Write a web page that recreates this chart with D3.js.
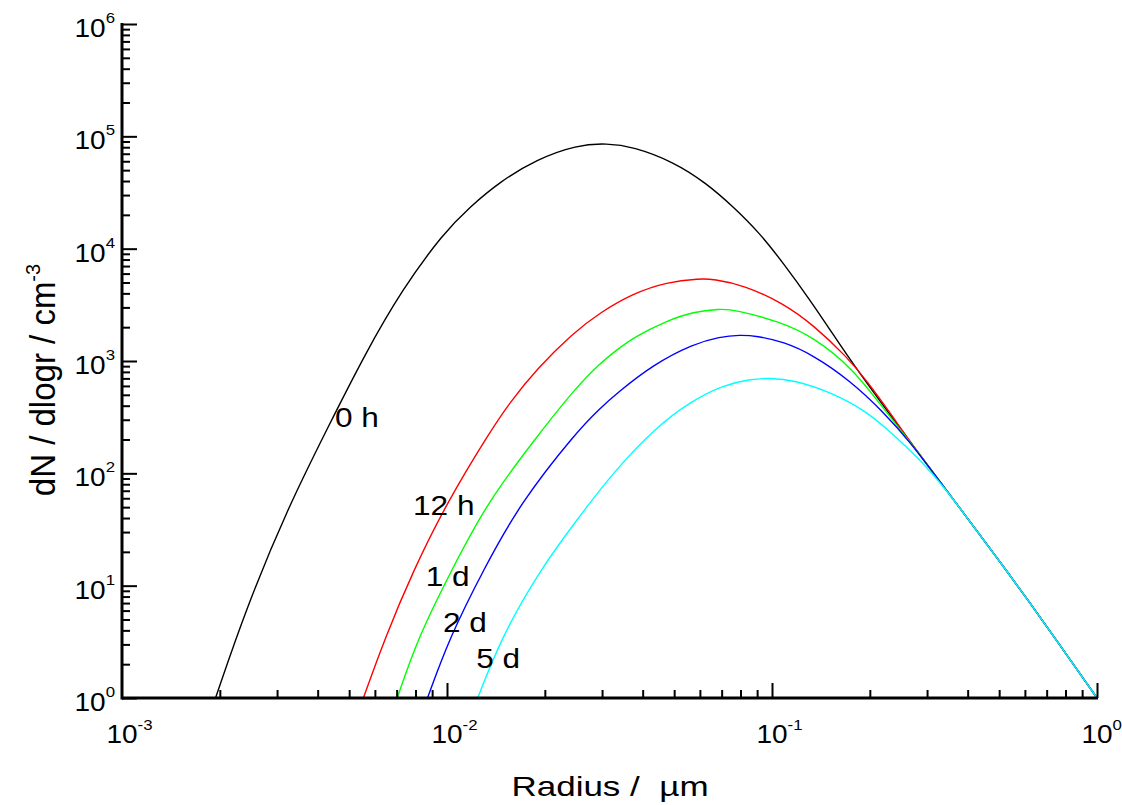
<!DOCTYPE html>
<html>
<head>
<meta charset="utf-8">
<script src="https://cdn.jsdelivr.net/npm/d3@7"></script>
<style>
  html, body { margin: 0; padding: 0; background: #fff; }
  svg { display: block; }
  text { font-family: "Liberation Sans", Arial, sans-serif; fill: #000; }
</style>
</head>
<body>
<svg id="chart" width="1122" height="805"></svg>
<script>
// ---------------- data ----------------
const xTickExps = [-3, -2, -1, 0];
const yTickExps = [0, 1, 2, 3, 4, 5, 6];

// shared large-particle tail (all curves coincide here)
const tailR = [0.2659, 0.3365, 0.4064, 0.5036, 0.6083, 0.769, 1.0];
const tailN = [191, 77.1, 37.3, 16.2, 7.69, 2.96, 1];

const r0h = [1.94e-3, 2.42e-3, 3.25e-3, 4.31e-3, 5.59e-3, 7.26e-3, 9.74e-3, 0.01178, 0.01455, 0.01888, 0.02506, 0.0310, 0.0374, 0.0497, 0.0629, 0.0760, 0.0918, 0.1084, 0.1309, 0.1507, 0.1825];
const n0h = [1, 6.5, 50.5, 260, 1150, 4287, 13700, 23650, 39500, 62500, 83800, 86700, 80900, 59500, 38200, 23650, 13700, 7410, 3490, 1905, 832];

const r12h = [5.53e-3, 6.44e-3, 7.87e-3, 9.98e-3, 0.01356, 0.01563, 0.01888, 0.02447, 0.02957, 0.0374, 0.0474, 0.0602, 0.0659, 0.0817, 0.1084, 0.1339, 0.1698, 0.1956, 0.236];
const n12h = [1, 3.4, 13.6, 54.5, 235, 430, 850, 1780, 2700, 4000, 5050, 5420, 5350, 4750, 3265, 2093, 1092, 670, 316];

const r1d = [7.03e-3, 8.16e-3, 0.01034, 0.01324, 0.01888, 0.02506, 0.02957, 0.0333, 0.0374, 0.0474, 0.0573, 0.0692, 0.0760, 0.1058, 0.1339, 0.1778, 0.2201];
const n1d = [1, 3.51, 13.8, 54.1, 212, 590, 954, 1253, 1620, 2280, 2748, 2904, 2880, 2239, 1640, 850, 378];

const r2d = [8.71e-3, 0.01021, 0.01294, 0.01677, 0.02506, 0.02957, 0.0333, 0.0431, 0.0573, 0.0692, 0.0797, 0.0897, 0.1084, 0.1339, 0.1738, 0.2196];
const n2d = [1, 3.51, 13.8, 54.1, 235, 379, 516, 930, 1420, 1646, 1705, 1670, 1486, 1131, 670, 355];

const r5d = [0.01243, 0.01473, 0.01932, 0.02506, 0.0329, 0.0442, 0.0560, 0.0708, 0.0855, 0.0986, 0.1163, 0.1541, 0.1946, 0.2357, 0.2853];
const n5d = [1, 3.51, 13.8, 38.4, 107, 260, 434, 612, 688, 706, 678, 519, 359, 224, 132];

const seriesNames = ["0 h", "12 h", "1 d", "2 d", "5 d"];
const seriesColors = ["#000000", "#ff0000", "#00ff00", "#0000ff", "#00ffff"];
const seriesR = [r0h, r12h, r1d, r2d, r5d];
const seriesN = [n0h, n12h, n1d, n2d, n5d];
// curve label anchors (radius, dN) in data coordinates
const labelR = [4.52e-3, 7.86e-3, 8.60e-3, 9.72e-3, 0.0123];
const labelN = [258, 42.6, 9.93, 3.89, 1.84];

// ---------------- layout ----------------
const svg = d3.select("#chart");
const X0 = 122, X1 = 1097, Y0 = 698, Y1 = 24;

const x = d3.scaleLog().domain([1e-3, 1]).range([X0, X1]);
const y = d3.scaleLog().domain([1, 1e6]).range([Y0, Y1]);

// ---------------- curves ----------------
const line = d3.line()
  .x(d => x(d[0]))
  .y(d => y(d[1]))
  .curve(d3.curveBasis);

seriesR.forEach((rs, i) => {
  const pts = rs.map((r, k) => [r, seriesN[i][k]]);
  const last = rs[rs.length - 1];
  const tail = tailR.map((t, k) => [t, tailN[k]]).filter(p => p[0] > last);
  svg.append("path")
    .attr("d", line(pts.concat(tail)))
    .attr("fill", "none")
    .attr("stroke", seriesColors[i])
    .attr("stroke-width", 1.4)
    .attr("stroke-linejoin", "round");
});

// ---------------- axes ----------------
const minorX = [];
for (let e = -3; e < 0; e++) for (let m = 2; m <= 9; m++) minorX.push(m * Math.pow(10, e));
const minorY = [];
for (let e = 0; e < 6; e++) for (let m = 2; m <= 9; m++) minorY.push(m * Math.pow(10, e));

const gx = svg.append("g").attr("transform", `translate(0,${Y0})`);
gx.call(d3.axisBottom(x).tickValues(minorX).tickSize(-8).tickFormat(""))
  .call(g => g.select(".domain").remove());
gx.append("g").call(d3.axisBottom(x).tickValues(xTickExps.filter(e => e > -3).map(e => Math.pow(10, e))).tickSize(-15).tickFormat(""))
  .call(g => g.select(".domain").remove());
gx.selectAll("line").attr("stroke", "#000").attr("stroke-width", 2);

const gy = svg.append("g").attr("transform", `translate(${X0},0)`);
gy.call(d3.axisLeft(y).tickValues(minorY).tickSize(-8).tickFormat(""))
  .call(g => g.select(".domain").remove());
gy.append("g").call(d3.axisLeft(y).tickValues(yTickExps.map(e => Math.pow(10, e))).tickSize(-15).tickFormat(""))
  .call(g => g.select(".domain").remove());
gy.selectAll("line").attr("stroke", "#000").attr("stroke-width", 2);

svg.append("line").attr("x1", X0).attr("x2", X1 + 1).attr("y1", Y0).attr("y2", Y0)
  .attr("stroke", "#000").attr("stroke-width", 3);
svg.append("line").attr("x1", X0).attr("x2", X0).attr("y1", Y1 - 1).attr("y2", Y0 + 1.5)
  .attr("stroke", "#000").attr("stroke-width", 3);

// ---------------- tick labels ----------------
const TSX = 1.12;
xTickExps.forEach(e => {
  const g = svg.append("g").attr("transform", `translate(${x(Math.pow(10, e))},743) scale(${TSX},1)`);
  const t = g.append("text").attr("x", -13.9).attr("font-size", 25);
  t.append("tspan").text("10");
  t.append("tspan").attr("font-size", 15).attr("dy", -13).text(e === 0 ? "0" : "-" + (-e));
});
yTickExps.forEach(e => {
  const g = svg.append("g").attr("transform", `translate(115,${y(Math.pow(10, e)) + 13}) scale(${TSX},1)`);
  const t = g.append("text").attr("text-anchor", "end").attr("font-size", 25);
  t.append("tspan").text("10");
  t.append("tspan").attr("font-size", 15).attr("dy", -14).text(String(e));
});

// ---------------- axis titles ----------------
svg.append("g").attr("transform", `translate(610,796) scale(1.25,1)`)
  .append("text").attr("text-anchor", "middle").attr("font-size", 28)
  .text("Radius /\u00A0 µm");

const yt = svg.append("g").attr("transform", `translate(55,380) scale(1.05,1) rotate(-90)`)
  .append("text").attr("text-anchor", "middle").attr("font-size", 33);
yt.append("tspan").text("dN / dlogr / cm");
yt.append("tspan").attr("font-size", 20).attr("dy", -14).text("-3");

// ---------------- curve labels ----------------
seriesNames.forEach((name, i) => {
  svg.append("g").attr("transform", `translate(${x(labelR[i])},${y(labelN[i])}) scale(1.17,1)`)
    .append("text").attr("font-size", 27).text(name);
});
</script>
</body>
</html>
